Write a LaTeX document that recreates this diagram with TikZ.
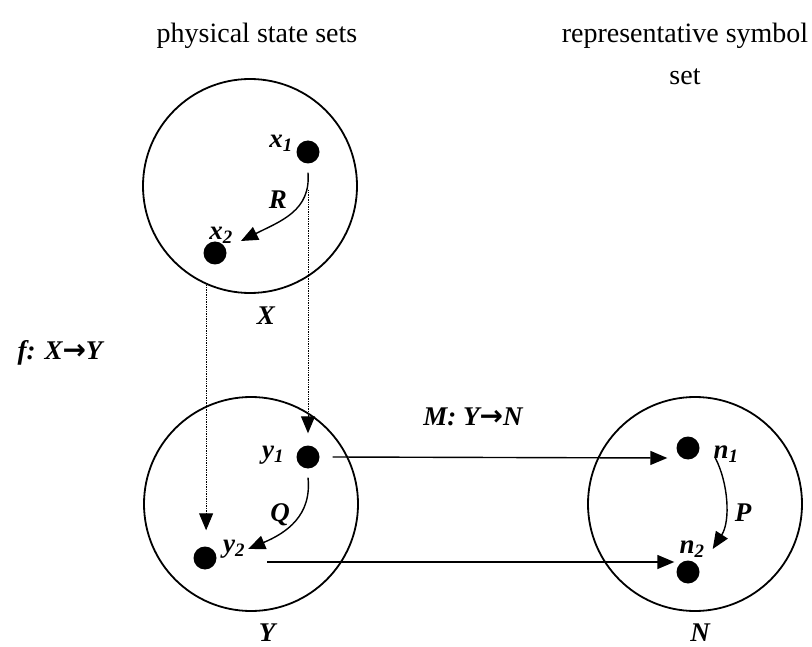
\documentclass[tikz,border=0pt]{standalone}
\usepackage{fontspec}
\setmainfont{Liberation Serif}
\newfontfamily\arrowfont{DejaVu Sans}
\usetikzlibrary{arrows.meta,positioning,calc}

\begin{document}
\begin{tikzpicture}[
  x=1pt, y=-1pt,
  setc/.style={draw, circle, line width=1.8pt, minimum size=214pt, inner sep=0pt},
  stpt/.style={circle, fill, minimum size=23pt, inner sep=0pt},
  lbl/.style={font=\fontsize{27}{30}\selectfont\bfseries\itshape, inner sep=0pt},
  titletxt/.style={font=\fontsize{28}{32}\selectfont, inner sep=0pt},
  arr/.style={-{Triangle[length=17pt,width=14pt]}, line width=1.4pt},
  dotarr/.style={arr, densely dotted, line width=1pt}
]
\useasboundingbox (0,0) rectangle (812,647);
\node[titletxt] (phys) at (257,36) {physical state sets};
\node[titletxt] (repr) at (685,36) {representative symbol};
\node[titletxt, below=20pt of repr] (reprset) {set};
\node[setc] (X) at (250,186) {};
\node[setc] (Y) at (251,504) {};
\node[setc] (N) at (695,504) {};
\node[lbl] (Xl) at (266,316) {X};
\node[lbl] (Yl) at (267,633) {Y};
\node[lbl] (Nl) at (700,633) {N};
\node[stpt] (x1) at (308,152) {};
\node[stpt] (x2) at (215,253) {};
\node[stpt] (y1) at (308,457) {};
\node[stpt] (y2) at (205,558) {};
\node[stpt] (n1) at (688,448) {};
\node[stpt] (n2) at (688,572) {};
\node[lbl] (x1l) at (281,143) {x\textsubscript{1}};
\node[lbl] (x2l) at (221,235) {x\textsubscript{2}};
\node[lbl] (y1l) at (273,455) {y\textsubscript{1}};
\node[lbl] (y2l) at (234,549) {y\textsubscript{2}};
\node[lbl] (n1l) at (726,454) {n\textsubscript{1}};
\node[lbl] (n2l) at (692,549) {n\textsubscript{2}};
\node[lbl] (Rl) at (278,200) {R};
\node[lbl] (Ql) at (280,515) {Q};
\node[lbl] (Pl) at (743,513) {P};
\node[lbl] (Ml) at (473,417) {M: Y{\arrowfont\upshape\fontsize{28}{30}\selectfont→}N};
\node[lbl] (fl) at (60,353) {f: X{\arrowfont\upshape\fontsize{28}{30}\selectfont→}Y};
\draw[arr] ([yshift=-9pt]x1.south) .. controls +(3,38) and +(40,-20) .. ([xshift=8pt,yshift=-6pt]x2l.east);
\draw[arr] ([yshift=-9pt]y1.south) .. controls +(4,38) and +(38,-16) .. ([xshift=3pt]y2l.east);
\draw[arr] ([xshift=2pt,yshift=-4pt]n1l.west) .. controls +(13,25) and +(18,-28) .. ([xshift=8pt]n2l.east);
\draw[arr] ([xshift=13pt]y1.east) -- ([xshift=-9pt,yshift=-10pt]n1.west);
\draw[arr] ([xshift=22pt,yshift=-13pt]y2l.east) -- ([xshift=-2pt,yshift=10pt]n2.west);
\draw[dotarr, shorten >=16pt] (X.246) -- (X.246 |- y2.north);
\draw[dotarr, shorten <=26pt, shorten >=12pt] (x1.south) -- (y1.north);
\end{tikzpicture}
\end{document}
